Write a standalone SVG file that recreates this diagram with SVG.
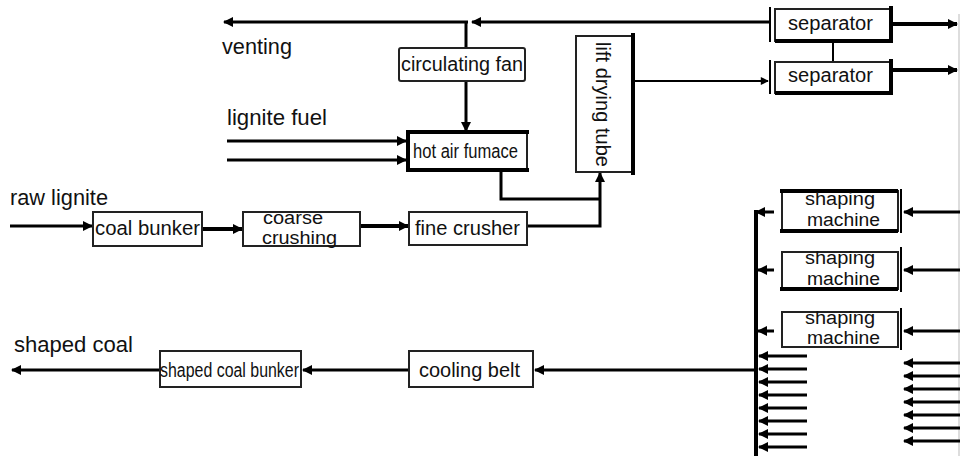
<svg xmlns="http://www.w3.org/2000/svg" width="961" height="456" viewBox="0 0 961 456">
<defs>
<marker id="a" viewBox="0 0 10 10" refX="9" refY="5" markerWidth="12" markerHeight="10" markerUnits="userSpaceOnUse" orient="auto"><path d="M0,0 L10,5 L0,10 z" fill="#000"/></marker>
<marker id="as" viewBox="0 0 10 10" refX="9" refY="5" markerWidth="10" markerHeight="8" markerUnits="userSpaceOnUse" orient="auto"><path d="M0,0 L10,5 L0,10 z" fill="#000"/></marker>
</defs>
<style>
.box{fill:#fff;stroke:#222;stroke-width:2}
.t{font-family:"Liberation Sans",Arial,sans-serif;font-size:20px;fill:#111}
.t2{font-family:"Liberation Sans",Arial,sans-serif;font-size:18px;fill:#111}
.l{font-family:"Liberation Sans",Arial,sans-serif;font-size:22px;fill:#111}
.c{fill:none;stroke:#000;stroke-width:3}
.cm{fill:none;stroke:#000;stroke-width:2}
.th{stroke:#000;stroke-width:4}
</style>
<rect width="961" height="456" fill="#fff"/>
<line x1="959" y1="14" x2="959" y2="456" stroke="#bbb" stroke-width="1"/>

<g id="connectors">
<line class="c" x1="770" y1="22" x2="472" y2="22" marker-end="url(#a)"/>
<line class="c" x1="468" y1="22" x2="224" y2="22" marker-end="url(#a)"/>
<line class="c" x1="466" y1="22" x2="466" y2="48"/>
<line class="c" x1="466" y1="81" x2="466" y2="131" marker-end="url(#a)"/>
<line class="c" x1="227" y1="141" x2="406" y2="141" marker-end="url(#a)"/>
<line class="c" x1="227" y1="160" x2="406" y2="160" marker-end="url(#a)"/>
<polyline class="c" points="501,170 501,199 600,199"/>
<polyline class="c" points="527,226 600,226 600,173" marker-end="url(#a)"/>
<line class="cm" x1="634" y1="81" x2="768" y2="81" marker-end="url(#as)"/>
<line class="cm" x1="833" y1="41" x2="833" y2="62"/>
<line class="th" x1="892" y1="24" x2="957" y2="24" marker-end="url(#a)"/>
<line class="th" x1="892" y1="70" x2="957" y2="70" marker-end="url(#a)"/>
<line class="c" x1="10" y1="226" x2="92" y2="226" marker-end="url(#a)"/>
<line class="th" x1="202" y1="229" x2="242" y2="229" marker-end="url(#a)"/>
<line class="th" x1="360" y1="226" x2="408" y2="226" marker-end="url(#a)"/>
<line class="th" x1="756" y1="210" x2="756" y2="456"/>
<line class="c" x1="756" y1="212" x2="774" y2="212" marker-end="url(#a)" transform="rotate(180 765 212)"/>
<line class="c" x1="758" y1="270" x2="774" y2="270" marker-end="url(#a)" transform="rotate(180 766 270)"/>
<line class="c" x1="758" y1="331" x2="774" y2="331" marker-end="url(#a)" transform="rotate(180 766 331)"/>
<line class="c" x1="960" y1="212" x2="904" y2="212" marker-end="url(#a)"/>
<line class="c" x1="960" y1="270" x2="904" y2="270" marker-end="url(#a)"/>
<line class="c" x1="960" y1="331" x2="904" y2="331" marker-end="url(#a)"/>
<line class="c" x1="807" y1="356" x2="759" y2="356" marker-end="url(#a)"/>
<line class="c" x1="807" y1="369" x2="759" y2="369" marker-end="url(#a)"/>
<line class="c" x1="807" y1="382" x2="759" y2="382" marker-end="url(#a)"/>
<line class="c" x1="807" y1="395" x2="759" y2="395" marker-end="url(#a)"/>
<line class="c" x1="807" y1="408" x2="759" y2="408" marker-end="url(#a)"/>
<line class="c" x1="807" y1="421" x2="759" y2="421" marker-end="url(#a)"/>
<line class="c" x1="807" y1="434" x2="759" y2="434" marker-end="url(#a)"/>
<line class="c" x1="807" y1="447" x2="759" y2="447" marker-end="url(#a)"/>
<line class="c" x1="960" y1="363" x2="904" y2="363" marker-end="url(#a)"/>
<line class="c" x1="960" y1="376" x2="904" y2="376" marker-end="url(#a)"/>
<line class="c" x1="960" y1="389" x2="904" y2="389" marker-end="url(#a)"/>
<line class="c" x1="960" y1="402" x2="904" y2="402" marker-end="url(#a)"/>
<line class="c" x1="960" y1="415" x2="904" y2="415" marker-end="url(#a)"/>
<line class="c" x1="960" y1="428" x2="904" y2="428" marker-end="url(#a)"/>
<line class="c" x1="960" y1="441" x2="904" y2="441" marker-end="url(#a)"/>
<line class="c" x1="755" y1="370" x2="535" y2="370" marker-end="url(#a)"/>
<line class="c" x1="409" y1="370" x2="303" y2="370" marker-end="url(#a)"/>
<line class="c" x1="160" y1="370" x2="12" y2="370" marker-end="url(#a)"/>
</g>

<g id="labels">
<text class="l" x="222" y="54" textLength="70" lengthAdjust="spacingAndGlyphs">venting</text>
<text class="l" x="227" y="125" textLength="100" lengthAdjust="spacingAndGlyphs">lignite fuel</text>
<text class="l" x="10" y="205" textLength="98" lengthAdjust="spacingAndGlyphs">raw lignite</text>
<text class="l" x="14" y="352" textLength="119" lengthAdjust="spacingAndGlyphs">shaped coal</text>
</g>

<g id="circulating-fan">
<rect class="box" x="399" y="48" width="126" height="33" rx="2"/>
<text class="t" x="401" y="71" textLength="122" lengthAdjust="spacingAndGlyphs">circulating fan</text>
</g>

<g id="hot-air-furnace">
<rect class="box" x="408" y="132" width="119" height="38"/>
<line class="th" x1="406" y1="132" x2="529" y2="132"/>
<line class="th" x1="406" y1="170" x2="529" y2="170"/>
<line class="th" x1="408" y1="130" x2="408" y2="172"/>
<text class="t" x="413" y="158" textLength="105" lengthAdjust="spacingAndGlyphs">hot air fumace</text>
</g>

<g id="lift-drying-tube">
<rect class="box" x="576" y="36" width="57" height="136"/>
<line class="th" x1="633" y1="33" x2="633" y2="175"/>
<text class="t" transform="translate(596 42) rotate(90)" x="0" y="0" textLength="125" lengthAdjust="spacingAndGlyphs">lift drying tube</text>
</g>

<g id="separator-1">
<rect class="box" x="775" y="9" width="116" height="32"/>
<line class="cm" x1="770" y1="7" x2="770" y2="42"/>
<line class="th" x1="891" y1="6" x2="891" y2="43"/>
<line class="th" x1="775" y1="41" x2="891" y2="41"/>
<text class="t" x="788" y="30" textLength="85" lengthAdjust="spacingAndGlyphs">separator</text>
</g>

<g id="separator-2">
<rect class="box" x="775" y="62" width="116" height="31"/>
<line class="cm" x1="770" y1="60" x2="770" y2="94"/>
<line class="th" x1="891" y1="59" x2="891" y2="95"/>
<line class="th" x1="775" y1="93" x2="891" y2="93"/>
<text class="t" x="788" y="82" textLength="85" lengthAdjust="spacingAndGlyphs">separator</text>
</g>

<g id="coal-bunker">
<rect class="box" x="93" y="212" width="109" height="34"/>
<text class="t" x="95" y="235" textLength="105" lengthAdjust="spacingAndGlyphs">coal bunker</text>
</g>

<g id="coarse-crushing">
<rect class="box" x="243" y="212" width="117" height="34"/>
<text class="t2" x="263" y="224" textLength="60" lengthAdjust="spacingAndGlyphs">coarse</text>
<text class="t2" x="262" y="244" textLength="75" lengthAdjust="spacingAndGlyphs">crushing</text>
</g>

<g id="fine-crusher">
<rect class="box" x="409" y="212" width="118" height="33"/>
<text class="t" x="415" y="235" textLength="105" lengthAdjust="spacingAndGlyphs">fine crusher</text>
</g>

<g id="shaping-machine-1">
<rect class="box" x="782" y="191" width="116" height="40"/>
<line class="th" x1="780" y1="191" x2="898" y2="191"/>
<line class="th" x1="780" y1="231" x2="898" y2="231"/>
<line class="cm" x1="901" y1="189" x2="901" y2="233"/>
<text class="t2" x="805" y="205" textLength="70" lengthAdjust="spacingAndGlyphs">shaping</text>
<text class="t2" x="807" y="226" textLength="73" lengthAdjust="spacingAndGlyphs">machine</text>
</g>

<g id="shaping-machine-2">
<rect class="box" x="782" y="252" width="116" height="37"/>
<line class="th" x1="780" y1="289" x2="898" y2="289"/>
<line class="cm" x1="901" y1="247" x2="901" y2="292"/>
<text class="t2" x="805" y="264" textLength="70" lengthAdjust="spacingAndGlyphs">shaping</text>
<text class="t2" x="807" y="285" textLength="73" lengthAdjust="spacingAndGlyphs">machine</text>
</g>

<g id="shaping-machine-3">
<rect class="box" x="782" y="312" width="116" height="35"/>
<line class="cm" x1="901" y1="308" x2="901" y2="350"/>
<text class="t2" x="805" y="324" textLength="70" lengthAdjust="spacingAndGlyphs">shaping</text>
<text class="t2" x="807" y="344" textLength="73" lengthAdjust="spacingAndGlyphs">machine</text>
</g>

<g id="cooling-belt">
<rect class="box" x="409" y="351" width="124" height="36"/>
<text class="t" x="419" y="377" textLength="101" lengthAdjust="spacingAndGlyphs">cooling belt</text>
</g>

<g id="shaped-coal-bunker">
<rect class="box" x="160" y="351" width="141" height="36"/>
<text class="t" x="160" y="377" textLength="139" lengthAdjust="spacingAndGlyphs">shaped coal bunker</text>
</g>
</svg>
